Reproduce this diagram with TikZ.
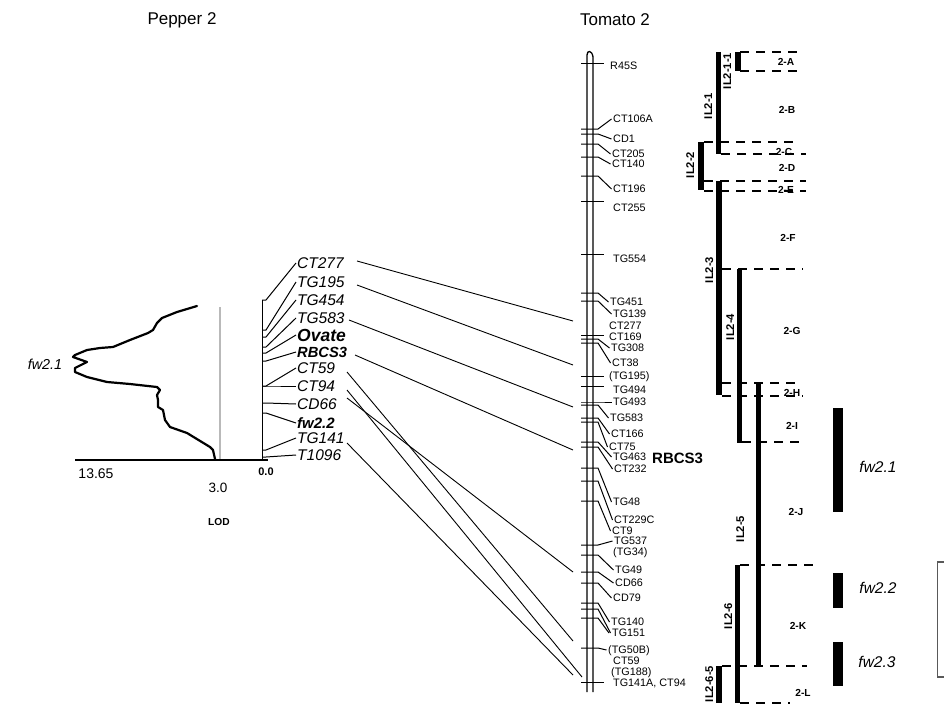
\documentclass[tikz,border=0pt]{standalone}
\usepackage{fontspec}
\setmainfont{Liberation Sans}
\begin{document}
\begin{tikzpicture}[x=1pt,y=-1pt,
  tl/.style={font=\fontsize{10.8}{11}\selectfont, anchor=west, inner sep=0pt, text height=7.7pt, text depth=0pt},
  pl/.style={font=\fontsize{15.5}{16}\selectfont\itshape, anchor=west, inner sep=0pt, text height=11.1pt, text depth=0pt},
  plb/.style={anchor=west, inner sep=0pt, text depth=0pt},
  bin/.style={font=\fontsize{10.2}{11}\selectfont\bfseries, inner sep=0pt, text height=7.3pt, text depth=0pt},
  ill/.style={font=\fontsize{11.2}{12}\selectfont\bfseries, rotate=90, inner sep=0pt, text height=8pt, text depth=0pt},
  fwl/.style={font=\fontsize{15.5}{16}\selectfont\itshape, inner sep=0pt},
  ttl/.style={font=\fontsize{17}{18}\selectfont, inner sep=0pt},
  ilbar/.style={line width=5.5pt},
  fwbar/.style={line width=10pt},
  binl/.style={dash pattern=on 9pt off 7pt, line width=1.1pt},
  tk/.style={line width=1pt},
  lk/.style={line width=0.9pt}]
\useasboundingbox (0,0) rectangle (944,709);
\fill[white] (0,0) rectangle (944,709);

% titles
\node[ttl] (tpep) at (182,20) {Pepper 2};
\node[ttl] (ttom) at (615,20) {Tomato 2};

% ---------------- pepper LOD ----------------
\draw[gray!55, line width=1.2pt] (220,307) -- (220,460);
\draw[line width=1.2pt] (75,460) -- (268,460);
\draw[line width=2.2pt, line join=round, line cap=round]
 (197,306) -- (177,312) -- (162,318) -- (157,323) -- (153,330) -- (148,333) -- (130,340) -- (113,347) -- (100,348) -- (87,350) -- (75,355) -- (73,357) -- (87,362) -- (75,368) -- (75,372) -- (87,377) -- (107,382) -- (130,384) -- (157,387) -- (160,390) -- (157,395) -- (158,400) -- (158,407) -- (163,410) -- (165,420) -- (170,427) -- (187,433) -- (210,447) -- (213,450) -- (215,459);
\node[font=\fontsize{14}{15}\selectfont, inner sep=0pt] (n1365) at (96,474) {13.65};
\node[font=\fontsize{13.5}{14}\selectfont, inner sep=0pt] (n30) at (218,488) {3.0};
\node[font=\fontsize{11}{12}\selectfont\bfseries, inner sep=0pt] (n00) at (266,472) {0.0};
\node[font=\fontsize{10.2}{11}\selectfont\bfseries, inner sep=0pt] (nlod) at (219,522) {LOD};
\node[font=\fontsize{14.4}{15}\selectfont\itshape, inner sep=0pt] (pfw21) at (45,364) {fw2.1};

% pepper chromosome
\draw[line width=1pt] (262,300) -- (262,460);
\foreach \ty/\ly/\nm/\tx in {300/263/CTa/CT277, 330/282/TGa/TG195, 337/300/TGb/TG454, 347/318/TGc/TG583, 386/368/CTb/CT59, 386/386/CTc/CT94, 403/404/CD/CD66, 450/438/TGd/TG141, 457/455/T1/T1096}{
  \node[pl] (p\nm) at (297,\ly) {\tx};
  \draw[tk] (262,\ty) -- (266,\ty) -- ([xshift=-1pt]p\nm.west);
}
\foreach \ty/\ly/\nm/\tx/\fs in {353/335/Ov/Ovate/17.5, 361/352/RB/RBCS3/14.7, 413/423/fw/fw2.2/15}{
  \node[plb, font=\fontsize{\fs}{\fs}\selectfont\bfseries\itshape, text height=0.72*\fs pt] (p\nm) at (297,\ly) {\tx};
  \draw[tk] (262,\ty) -- (266,\ty) -- ([xshift=-1pt]p\nm.west);
}

% ---------------- tomato chromosome ----------------
\draw[line width=1.3pt] (587,692) -- (587,55) .. controls (587,50) and (592,50) .. (593,57) -- (593,692);

% long ticks
\foreach \ty/\ly/\lx/\nm/\tx in {63/66/610/a/R45S, 201/208/613/b/CT255, 254/259/613/c/TG554, 335/337/609/d/CT169, 376/376/609/e/(TG195), 386/390/613/f/TG494, 682/683/613/g/{TG141A, CT94}}{
  \node[tl] (tl\nm) at (\lx,\ly) {\tx};
  \draw[tk] (581,\ty) -- (604,\ty);
}
% labels without own tick
\node[tl] (tCT277) at (609,326) {CT277};
\node[tl] (tTG34) at (613,552) {(TG34)};
\node[tl] (tCT59) at (613,661) {CT59};
\node[tl] (tTG188) at (611,672) {(TG188)};
% leader ticks
\foreach \ty/\ly/\lx/\nm/\tx in {129/119/613/a/CT106A, 134/139/613/b/CD1, 144/154/612/c/CT205, 157/164/612/d/CT140, 176/189/613/e/CT196, 293/302/610/f/TG451, 301/314/613/g/TG139, 339/348/611/h/TG308, 343/363/612/i/CT38, 402/402/613/j/TG493, 405/418/610/k/TG583, 418/434/611/l/CT166, 422/447/609/m/CT75, 442/457/613/n/TG463, 447/469/614/o/CT232, 468/502/613/p/TG48, 481/520/614/q/CT229C, 501/531/612/r/CT9, 545/541/614/s/TG537, 555/570/615/t/TG49, 572/583/615/u/CD66, 583/598/613/v/CD79, 603/622/611/w/TG140, 609/633/612/x/TG151, 648/650/608/y/(TG50B)}{
  \node[tl] (tm\nm) at (\lx,\ly) {\tx};
  \draw[tk] (581,\ty) -- (598,\ty) -- ([xshift=-1.5pt]tm\nm.west);
}
\draw[tk] (581,618) -- (598,618) -- ([xshift=-3pt]tmx.west);
\node[font=\fontsize{15}{15}\selectfont\bfseries, inner sep=0pt, anchor=west] (tRB) at (652,458) {RBCS3};

% ---------------- links ----------------
\coordinate (sa) at (357,261); \coordinate (ea) at (573,321);
\coordinate (sb) at (357,285); \coordinate (eb) at (573,365);
\coordinate (sc) at (349,320); \coordinate (ec) at (573,407);
\coordinate (sd) at (355,355); \coordinate (ed) at (573,450);
\coordinate (se) at (347,372); \coordinate (ee) at (573,641);
\coordinate (sf) at (347,390); \coordinate (ef) at (582,677);
\coordinate (sg) at (347,398); \coordinate (eg) at (573,572);
\coordinate (sh) at (347,443); \coordinate (eh) at (573,675);
\foreach \k in {a,b,c,d,e,f,g,h}{ \draw[lk] (s\k) -- (e\k); }

% ---------------- bins ----------------
\foreach \y/\xa/\xb in {52/740/800, 71/740/800, 142/704/800, 154/721/806, 181/704/806, 191/704/806, 269/722/803, 383/722/800, 396/722/803, 442/742/803, 565/740/813, 666/722/807, 703/740/790}{
  \draw[binl] (\xa,\y) -- (\xb,\y);
}
\foreach \x/\y/\t in {786/62/2-A, 787/110/2-B, 784/152/2-C, 787/168/2-D, 786/190/2-E, 788/238/2-F, 792/331/2-G, 792/393/2-H, 792/426/2-I, 796/512/2-J, 798/626/2-K, 803/693/2-L}{
  \node[bin] (b\t) at (\x,\y) {\t};
}

% IL bars
\foreach \x/\ya/\yb/\lx/\ly/\t in {738/52/71/727/71/IL2-1-1, 718.5/52/154/708/106/IL2-1, 701/142/190/690/165/IL2-2, 719/181/395/709/270/IL2-3, 739.5/269/443/730/327/IL2-4, 758.5/383/667/740/529/IL2-5, 737.5/565/703/728/616/IL2-6, 719/666/703/709/684/IL2-6-5}{
  \draw[ilbar] (\x,\ya) -- (\x,\yb);
  \node[ill] (il\t) at (\lx,\ly) {\t};
}

% fw bars
\draw[fwbar] (838,408) -- (838,512);
\draw[fwbar] (838,573) -- (838,608);
\draw[fwbar] (838,642) -- (838,686);
\node[fwl] (fa) at (878,467) {fw2.1};
\node[fwl] (fb) at (878,588) {fw2.2};
\node[fwl] (fc) at (877,662) {fw2.3};

% box
\draw[black!65, line width=1.5pt] (945,562) -- (937.5,562) -- (937.5,677) -- (945,677);
\end{tikzpicture}
\end{document}
